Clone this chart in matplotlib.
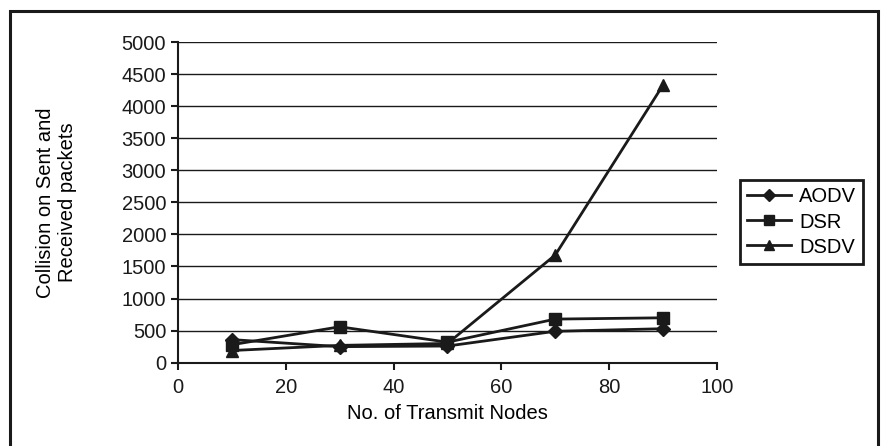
import matplotlib.pyplot as plt
from matplotlib.patches import Rectangle

nodes = [10, 30, 50, 70, 90]
aodv = [360, 250, 260, 490, 530]
dsr = [280, 560, 320, 680, 700]
dsdv = [190, 270, 300, 1680, 4330]

plt.rcParams['font.family'] = ['Liberation Sans', 'DejaVu Sans']

fig = plt.figure(figsize=(8.81, 4.46), dpi=100)
ax = fig.add_axes([178 / 881, 1 - 362.7 / 446, (717 - 178) / 881, (362.7 - 42) / 446])

# outer frame around the whole chart
fig.patches.append(Rectangle((10 / 881, -0.1), 868 / 881, 1.1 - 11 / 446,
                             transform=fig.transFigure, fill=False,
                             edgecolor='#1a1a1a', linewidth=2.2))

ax.plot(nodes, aodv, color='#1a1a1a', lw=2, marker='D', ms=7, label='AODV')
ax.plot(nodes, dsr, color='#1a1a1a', lw=2, marker='s', ms=8, label='DSR')
ax.plot(nodes, dsdv, color='#1a1a1a', lw=2, marker='^', ms=8, label='DSDV')

ax.set_xlim(0, 100)
ax.set_ylim(0, 5000)
ax.set_xticks(range(0, 101, 20))
ax.set_yticks(range(0, 5001, 500))
ax.yaxis.grid(True, color='#1a1a1a', lw=1.0)
ax.set_axisbelow(True)
for s in ['top', 'right']:
    ax.spines[s].set_visible(False)
for s in ['left', 'bottom']:
    ax.spines[s].set_linewidth(1.5)
    ax.spines[s].set_color('#1a1a1a')
ax.tick_params(direction='out', length=5, width=1.5, labelsize=14.5, colors='#1a1a1a')
ax.tick_params(axis='x', pad=6)

ax.set_xlabel('No. of Transmit Nodes', fontsize=14.5, labelpad=5)
ax.set_ylabel('Collision on Sent and\nReceived packets', fontsize=14.5, labelpad=32)

leg = ax.legend(loc='center left', bbox_to_anchor=(740 / 881, 1 - 222 / 446),
                bbox_transform=fig.transFigure, fontsize=14.5, frameon=True,
                fancybox=False, edgecolor='#1a1a1a', framealpha=1,
                handlelength=2.2, borderpad=0.35, labelspacing=0.3,
                handletextpad=0.4, markerscale=0.9, borderaxespad=0)
leg.get_frame().set_linewidth(2)

fig.savefig('out.png', dpi=100)
